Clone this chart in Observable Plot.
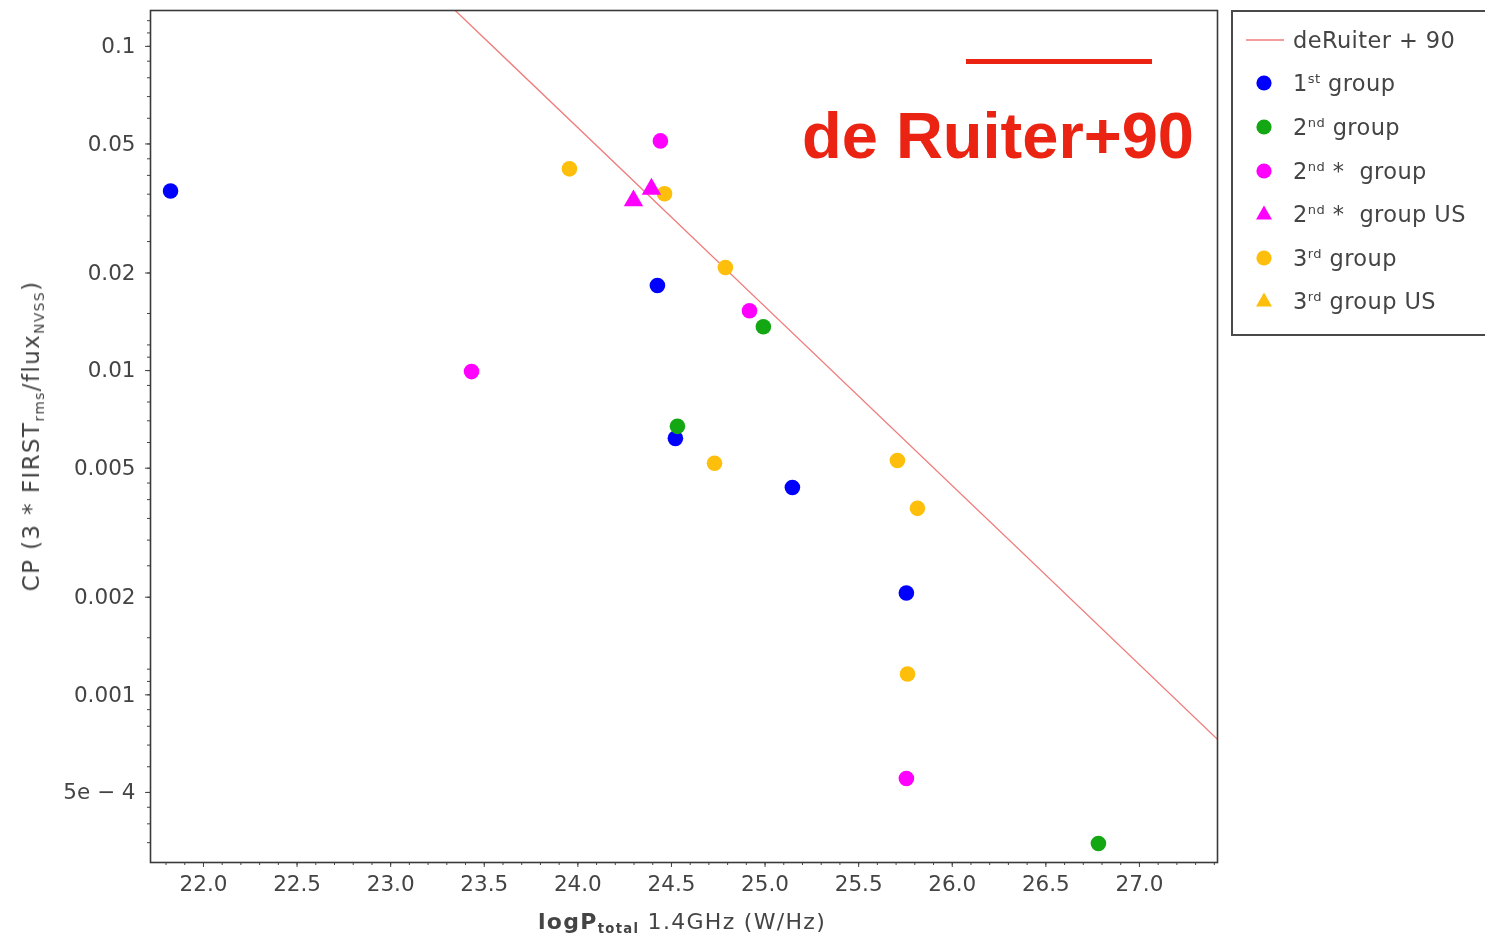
<!DOCTYPE html>
<html>
<head>
<meta charset="utf-8">
<script src="https://cdn.jsdelivr.net/npm/d3@7"></script>
<script src="https://cdn.jsdelivr.net/npm/@observablehq/plot@0.6"></script>
<style>
  body { margin: 0; background: #fff; }
  #wrap { position: relative; width: 1485px; height: 943px; overflow: hidden; background: #fff; }
  #chart { position: absolute; left: 0; top: 0; filter: blur(0.55px); }
  .soft { filter: blur(0.55px); }
  #ylab { position: absolute; left: 31px; top: 436px; transform: translate(-50%, -50%) rotate(-90deg);
          white-space: nowrap; font: 23px "DejaVu Sans", sans-serif; letter-spacing: 1.4px; color: #444; }
  #xlab { position: absolute; left: 682px; top: 921px; transform: translate(-50%, -50%);
          white-space: nowrap; font: 22px "DejaVu Sans", sans-serif; letter-spacing: 1.3px; color: #444; }
  #xlab b { font-weight: 600; }
  sub { font-size: 60%; vertical-align: -0.35em; line-height: 0; }
  sup { font-size: 58%; vertical-align: 0.6em; line-height: 0; }
  #legend { position: absolute; left: 1231px; top: 10px; width: 280px; height: 316px;
            border: 2px solid #4a4a4a; box-sizing: content-box; padding-top: 6px;
            font: 22.5px "DejaVu Sans", sans-serif; color: #444; letter-spacing: 0.4px; }
  .row { height: 43.6px; display: flex; align-items: center; }
  .row svg { width: 60px; height: 30px; flex: none; }
  .row span { white-space: nowrap; }
  #anno-line { position: absolute; left: 966px; top: 58.5px; width: 186px; height: 5px; background: #ea2312; }
  #anno-text { position: absolute; left: 802px; top: 98px; font: bold 65px "Liberation Sans", Arial, sans-serif;
               color: #ea2312; white-space: nowrap; }
</style>
</head>
<body>
<div id="wrap">
  <div id="chart"></div>
  <div id="ylab" class="soft">CP (3 * FIRST<sub>rms</sub>/flux<sub>NVSS</sub>)</div>
  <div id="xlab" class="soft"><b>logP<sub>total</sub></b> 1.4GHz (W/Hz)</div>
  <div id="legend" class="soft"></div>
  <div id="anno-line"></div>
  <div id="anno-text">de Ruiter+90</div>
</div>
<script>
// logP (W/Hz) and CP for each source group
const group1X = [21.824, 24.425, 24.521, 25.146, 25.755];
const group1Y = [0.0358, 0.0183, 0.00618, 0.00436, 0.00206];

const group2X = [24.991, 24.532, 26.781];
const group2Y = [0.01365, 0.00673, 0.000348];

const group2sX = [24.441, 24.917, 23.432, 25.755];
const group2sY = [0.0511, 0.0153, 0.00993, 0.000552];

const group2sUSX = [24.297, 24.393];
const group2sUSY = [0.0334, 0.0363];

const group3X = [23.955, 24.463, 24.788, 24.730, 25.707, 25.814, 25.761];
const group3Y = [0.0419, 0.0351, 0.0208, 0.00518, 0.00528, 0.00376, 0.00116];

const group3USX = [];
const group3USY = [];

// de Ruiter et al. (1990) relation, end points
const ruiterX = [23.0, 27.6];
const ruiterY = [0.2, 0.000578];

// axes
const xDomain = [21.717, 27.417];
const yDomain = [0.000304, 0.129];
const xMajor = [22.0, 22.5, 23.0, 23.5, 24.0, 24.5, 25.0, 25.5, 26.0, 26.5, 27.0];
const xMinor = d3.range(218, 275).map(v => v / 10);
const yMajor = [0.1, 0.05, 0.02, 0.01, 0.005, 0.002, 0.001, 0.0005];
const yMajorLabels = ["0.1", "0.05", "0.02", "0.01", "0.005", "0.002", "0.001", "5e \u2212 4"];
const yMinorMult = [1, 1.1, 1.2, 1.5, 2, 2.5, 3, 3.5, 4, 4.5, 5, 6, 7, 8, 9];
const yMinor = [1e-4, 1e-3, 1e-2, 1e-1]
  .flatMap(d => yMinorMult.map(m => +(m * d).toPrecision(3)))
  .filter(v => v >= yDomain[0] && v <= yDomain[1]);

const groupNames = ["1st group", "2nd group", "2nd * group", "2nd * group US", "3rd group", "3rd group US"];
const groupColors = ["#0000ff", "#13a813", "#ff00ff", "#ff00ff", "#fdbf0b", "#fdbf0b"];
const groupSymbols = ["circle", "circle", "circle", "triangle", "circle", "triangle"];

const groupData = [
  [group1X, group1Y], [group2X, group2Y], [group2sX, group2sY],
  [group2sUSX, group2sUSY], [group3X, group3Y], [group3USX, group3USY]
];

const points = groupData.flatMap(([xs, ys], g) =>
  xs.map((x, i) => ({x, y: ys[i], color: groupColors[g], symbol: groupSymbols[g], group: groupNames[g]})));
const ruiter = ruiterX.map((x, i) => ({x, y: ruiterY[i]}));

const chart = Plot.plot({
  width: 1485,
  height: 943,
  marginLeft: 150,
  marginRight: 268,
  marginTop: 10,
  marginBottom: 81,
  style: {fontFamily: "DejaVu Sans, sans-serif", fontSize: "21.5px", color: "#444", background: "white"},
  x: {domain: xDomain, label: null},
  y: {type: "log", domain: yDomain, label: null},
  marks: [
    Plot.axisX(xMinor, {tickSize: 3, tickFormat: () => "", stroke: "#444", label: null}),
    Plot.axisX(xMajor, {tickSize: 5, tickPadding: 8, tickFormat: d3.format(".1f"), stroke: "#444", label: null}),
    Plot.axisY(yMinor, {tickSize: 3, tickFormat: () => "", stroke: "#444", label: null}),
    Plot.axisY(yMajor, {tickSize: 5, tickPadding: 10, tickFormat: d => yMajorLabels[yMajor.indexOf(d)], stroke: "#444", label: null}),
    Plot.line(ruiter, {x: "x", y: "y", stroke: "#f07c7c", strokeWidth: 1.3, clip: true}),
    Plot.dot(points.filter(d => d.symbol === "circle"), {x: "x", y: "y", fill: "color", r: 7.8, symbol: "circle"}),
    Plot.dot(points.filter(d => d.symbol === "triangle"), {x: "x", y: "y", fill: "color", r: 7.2, symbol: "triangle"}),
    Plot.frame({stroke: "#3a3a3a", strokeWidth: 1.6})
  ]
});
document.getElementById("chart").appendChild(chart);

// legend: fit line followed by one row per group
const legendLabels = [
  "deRuiter + 90",
  "1<sup>st</sup> group",
  "2<sup>nd</sup> group",
  "2<sup>nd</sup> * &nbsp;group",
  "2<sup>nd</sup> * &nbsp;group US",
  "3<sup>rd</sup> group",
  "3<sup>rd</sup> group US"
];
const legend = document.getElementById("legend");
legendLabels.forEach((label, i) => {
  const row = document.createElement("div");
  row.className = "row";
  let sw;
  if (i === 0) {
    sw = `<svg viewBox="0 0 60 30"><line x1="13" x2="51" y1="15" y2="15" stroke="#f07c7c" stroke-width="1.5"/></svg>`;
  } else {
    const g = i - 1;
    const shape = groupSymbols[g] === "circle"
      ? `<circle cx="31" cy="15" r="7.6" fill="${groupColors[g]}"/>`
      : `<path d="M31,6.5 L39,20.5 L23,20.5 Z" fill="${groupColors[g]}"/>`;
    sw = `<svg viewBox="0 0 60 30">${shape}</svg>`;
  }
  row.innerHTML = sw + `<span>${label}</span>`;
  legend.appendChild(row);
});
</script>
</body>
</html>
